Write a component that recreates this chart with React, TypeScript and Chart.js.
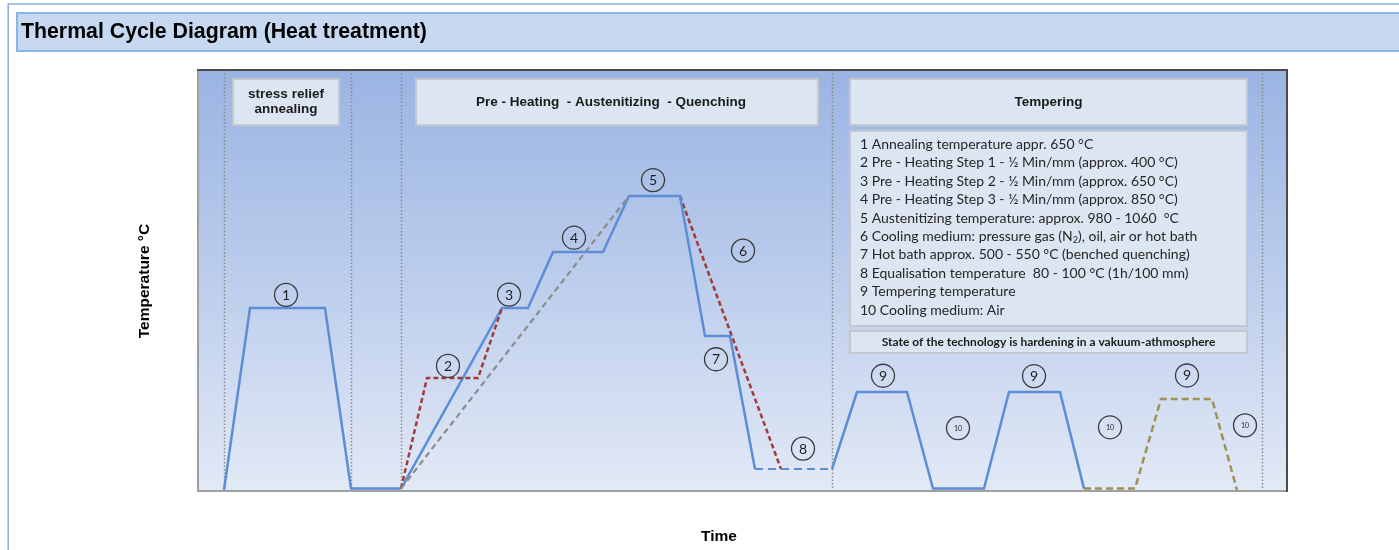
import React, { useEffect, useRef } from "react";
import { Chart, registerables } from "chart.js";

Chart.register(...registerables);

// ---- data (time in arbitrary units, temperature in °C) ----
const annealTime = [2.6, 5.2, 12.7, 15.3, 20.3];
const annealTemp = [0, 650, 650, 5, 5];
const hardenTime = [20.3, 30.4, 33.0, 35.5, 40.5, 43.1, 48.2, 50.7, 53.2, 55.7];
const hardenTemp = [5, 650, 650, 850, 850, 1050, 1050, 550, 550, 75];
const equalTime = [55.7, 63.4];
const equalTemp = [75, 75];
const temperTime = [63.4, 65.9, 70.9, 73.5, 78.6, 81.1, 86.2, 88.6];
const temperTemp = [75, 350, 350, 5, 5, 350, 350, 5];
const airTime = [88.6, 93.7, 96.3, 101.4, 103.9];
const airTemp = [5, 5, 325, 325, 0];
const stepTime = [20.3, 22.9, 28.0, 30.4];
const stepTemp = [5, 400, 400, 650];
const gasTime = [48.2, 58.3];
const gasTemp = [1050, 75];
const directTime = [20.3, 43.1];
const directTemp = [5, 1050];

const dividerTimes = [2.6, 15.3, 20.3, 63.4, 106.4];

const markerLabels = ["1", "2", "3", "4", "5", "6", "7", "8", "9", "9", "9", "10", "10", "10"];
const markerTime = [8.8, 25.0, 31.1, 37.6, 45.5, 54.5, 51.8, 60.5, 68.5, 83.6, 98.9, 76.0, 91.2, 104.7];
const markerTemp = [697, 443, 698, 901, 1107, 855, 467, 148, 408, 407, 409, 221, 224, 231];

const phaseLabels = [["stress relief", "annealing"], ["Pre - Heating  - Austenitizing  - Quenching"], ["Tempering"]];

const legendLines = [
  "1 Annealing temperature appr. 650 °C",
  "2 Pre - Heating Step 1 - ½ Min/mm (approx. 400 °C)",
  "3 Pre - Heating Step 2 - ½ Min/mm (approx. 650 °C)",
  "4 Pre - Heating Step 3 - ½ Min/mm (approx. 850 °C)",
  "5 Austenitizing temperature: approx. 980 - 1060  °C",
  "6 Cooling medium: pressure gas (N₂), oil, air or hot bath",
  "7 Hot bath approx. 500 - 550 °C (benched quenching)",
  "8 Equalisation temperature  80 - 100 °C (1h/100 mm)",
  "9 Tempering temperature",
  "10 Cooling medium: Air",
];
const noteText = "State of the technology is hardening in a vakuum-athmosphere";
const titleText = "Thermal Cycle Diagram (Heat treatment)";
const yTitle = "Temperature °C";
const xTitle = "Time";

const pts = (t: number[], v: number[]) => t.map((x, i) => ({ x, y: v[i] }));

const BLUE = "#5b8ed6";

const decor = {
  id: "decor",
  beforeDraw(chart: any) {
    const { ctx, chartArea: a, width, height } = chart;
    ctx.save();
    ctx.fillStyle = "#ffffff";
    ctx.fillRect(0, 0, width, height);
    // outer frame
    ctx.strokeStyle = "#8db3e2";
    ctx.lineWidth = 1.6;
    ctx.beginPath();
    ctx.moveTo(8.2, height);
    ctx.lineTo(8.2, 4);
    ctx.lineTo(width, 4);
    ctx.stroke();
    // title bar
    ctx.fillStyle = "#c6d9f0";
    ctx.fillRect(16, 12, width - 16, 40);
    ctx.lineWidth = 2;
    ctx.strokeRect(17, 13, width + 5, 38);
    ctx.fillStyle = "#000";
    ctx.font = "bold 21.3px 'Liberation Sans', Arial, sans-serif";
    ctx.textBaseline = "middle";
    ctx.textAlign = "left";
    ctx.fillText(titleText, 21, 32);
    // plot background
    const g = ctx.createLinearGradient(0, a.top, 0, a.bottom);
    g.addColorStop(0, "#9ab4e3");
    g.addColorStop(0.5, "#bccdec");
    g.addColorStop(1, "#e2e9f6");
    ctx.fillStyle = g;
    ctx.fillRect(a.left, a.top, a.right - a.left, a.bottom - a.top);
    // dotted dividers
    const xs = chart.scales.x;
    ctx.strokeStyle = "#8a8a8a";
    ctx.lineWidth = 1.5;
    ctx.setLineDash([1.5, 2]);
    dividerTimes.forEach((t) => {
      const px = Math.round(xs.getPixelForValue(t)) + 0.5;
      ctx.beginPath();
      ctx.moveTo(px, a.top);
      ctx.lineTo(px, a.bottom);
      ctx.stroke();
    });
    ctx.setLineDash([]);
    ctx.restore();
  },
  afterDraw(chart: any) {
    const { ctx, chartArea: a } = chart;
    const xs = chart.scales.x;
    const ys = chart.scales.y;
    ctx.save();
    // panel border
    ctx.lineWidth = 2;
    ctx.strokeStyle = "#a0a0a0";
    ctx.beginPath();
    ctx.moveTo(a.left, a.top);
    ctx.lineTo(a.left, a.bottom + 1);
    ctx.lineTo(a.right, a.bottom + 1);
    ctx.stroke();
    ctx.strokeStyle = "#4a4a4a";
    ctx.beginPath();
    ctx.moveTo(a.left - 1, a.top);
    ctx.lineTo(a.right, a.top);
    ctx.lineTo(a.right, a.bottom + 2);
    ctx.stroke();

    const box = (x: number, y: number, w: number, h: number) => {
      ctx.fillStyle = "#dce6f2";
      ctx.fillRect(x, y, w, h);
      ctx.strokeStyle = "#c4c8cc";
      ctx.lineWidth = 2;
      ctx.strokeRect(x, y, w, h);
    };
    const L = a.left;
    const T = a.top;
    // phase header boxes
    const heads = [
      { x: L + 35, w: 106, dx: 0 },
      { x: L + 218, w: 402, dx: -6 },
      { x: L + 652, w: 397, dx: 0 },
    ];
    ctx.textAlign = "center";
    ctx.textBaseline = "middle";
    heads.forEach((h, i) => {
      box(h.x, T + 9, h.w, 46);
      ctx.fillStyle = "#1a1a1a";
      ctx.font = "bold 13.5px 'Liberation Sans', Arial, sans-serif";
      const lines = phaseLabels[i];
      const cy = T + 32;
      lines.forEach((s, j) => {
        ctx.fillText(s, h.x + h.w / 2 + h.dx, cy + (j - (lines.length - 1) / 2) * 15);
      });
    });
    // legend box
    box(L + 652, T + 61, 397, 195);
    ctx.textAlign = "left";
    ctx.fillStyle = "#262626";
    const fs = 14;
    legendLines.forEach((s, i) => {
      const y = T + 74.5 + i * 18.4;
      const parts = s.split("₂");
      let x = L + 662;
      parts.forEach((p, k) => {
        ctx.font = `${fs}px Lato, 'Noto Sans', sans-serif`;
        ctx.fillText(p, x, y);
        x += ctx.measureText(p).width;
        if (k < parts.length - 1) {
          ctx.font = `${fs * 0.65}px Lato, 'Noto Sans', sans-serif`;
          ctx.fillText("2", x, y + 4);
          x += ctx.measureText("2").width;
        }
      });
    });
    // note box
    box(L + 652, T + 261, 397, 22);
    ctx.fillStyle = "#1a1a1a";
    ctx.textAlign = "center";
    ctx.font = "bold 12px Lato, 'Liberation Sans', sans-serif";
    ctx.fillText(noteText, L + 652 + 397 / 2, T + 272);

    // circled markers
    markerLabels.forEach((lab, i) => {
      const px = xs.getPixelForValue(markerTime[i]);
      const py = ys.getPixelForValue(markerTemp[i]);
      ctx.beginPath();
      ctx.arc(px, py, 11.5, 0, Math.PI * 2);
      ctx.strokeStyle = "#3a3a3a";
      ctx.lineWidth = 1.3;
      ctx.stroke();
      ctx.fillStyle = "#1f1f1f";
      ctx.font = lab.length > 1 ? "7px Lato, sans-serif" : "14px Lato, sans-serif";
      ctx.textAlign = "center";
      ctx.textBaseline = "middle";
      ctx.fillText(lab, px, py + 0.5);
    });

    // axis titles
    ctx.fillStyle = "#000";
    ctx.font = "bold 15.5px 'Liberation Sans', Arial, sans-serif";
    ctx.textAlign = "center";
    ctx.fillText(xTitle, xs.getPixelForValue(52.1), 537);
    ctx.save();
    ctx.translate(145, 281);
    ctx.rotate(-Math.PI / 2);
    ctx.fillText(yTitle, 0, 0);
    ctx.restore();
    ctx.restore();
  },
};

export default function App() {
  const ref = useRef<HTMLCanvasElement>(null);
  useEffect(() => {
    if (!ref.current) return;
    const solid = { borderColor: BLUE, borderWidth: 2.5 };
    const chart = new Chart(ref.current, {
      type: "scatter",
      data: {
        datasets: [
          { data: pts(directTime, directTemp), borderColor: "#8c8c8c", borderWidth: 2.2, borderDash: [6, 4] },
          { data: pts(stepTime, stepTemp), borderColor: "#a33a3a", borderWidth: 2.5, borderDash: [5, 3] },
          { data: pts(annealTime, annealTemp), ...solid },
          { data: pts(hardenTime, hardenTemp), ...solid },
          { data: pts(equalTime, equalTemp), borderColor: BLUE, borderWidth: 2, borderDash: [8, 5] },
          { data: pts(temperTime, temperTemp), ...solid },
          { data: pts(airTime, airTemp), borderColor: "#a09254", borderWidth: 2.5, borderDash: [7, 4] },
          { data: pts(gasTime, gasTemp), borderColor: "#a33a3a", borderWidth: 2.5, borderDash: [5, 3] },
        ].map((d) => ({ ...d, showLine: true, pointRadius: 0, tension: 0, fill: false })),
      },
      options: {
        responsive: false,
        animation: false,
        layout: { padding: { left: 198, right: 112, top: 70, bottom: 60 } },
        plugins: { legend: { display: false }, tooltip: { enabled: false } },
        scales: {
          x: { type: "linear", min: 0, max: 108.9, display: false },
          y: { type: "linear", min: 0, max: 1500, display: false },
        },
      },
      plugins: [decor],
    });
    return () => chart.destroy();
  }, []);
  return (
    <div style={{ position: "fixed", left: 0, top: 0, width: 1399, height: 550 }}>
      <canvas ref={ref} width={1399} height={550} style={{ display: "block" }} />
    </div>
  );
}
